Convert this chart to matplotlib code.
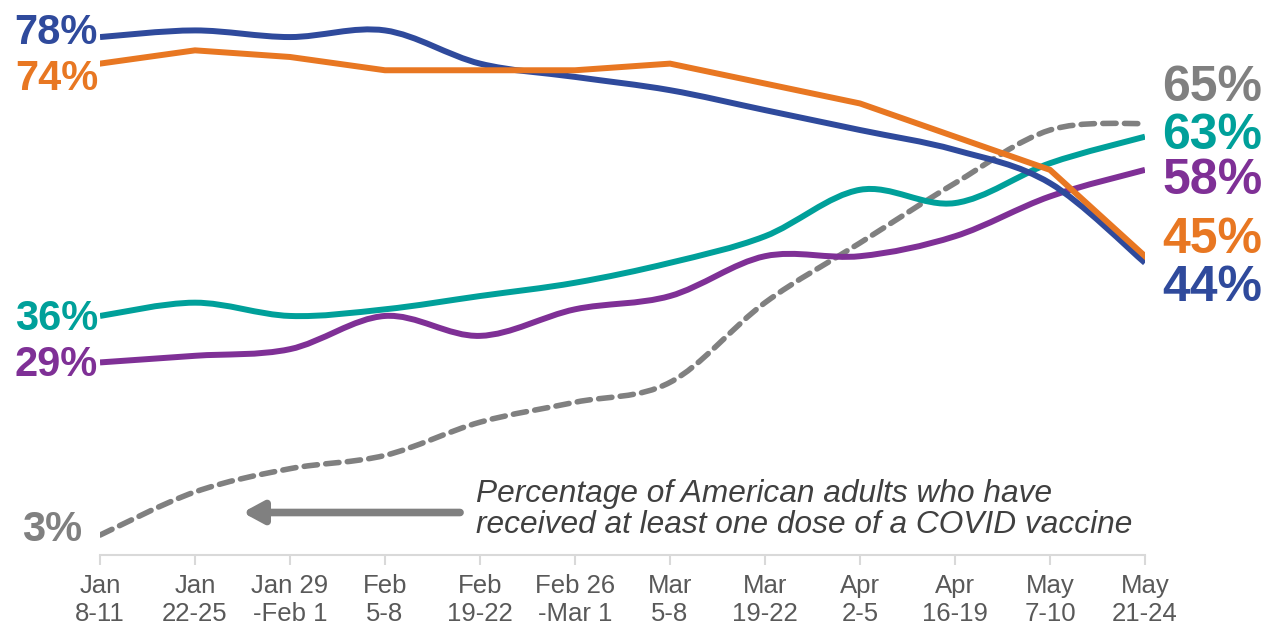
import numpy as np
import matplotlib
matplotlib.use("Agg")
import matplotlib.pyplot as plt
from matplotlib.path import Path
from matplotlib.patches import PathPatch

plt.rcParams['font.family'] = ['Liberation Sans', 'DejaVu Sans']

# Data
periods = ["Jan\n8-11", "Jan\n22-25", "Jan 29\n-Feb 1", "Feb\n5-8", "Feb\n19-22", "Feb 26\n-Mar 1",
           "Mar\n5-8", "Mar\n19-22", "Apr\n2-5", "Apr\n16-19", "May\n7-10", "May\n21-24"]
blue = [78, 79, 78, 79, 74, 72, 70, 67, 64, 61, 56, 44]
orange = [74, 76, 75, 73, 73, 73, 74, 71, 68, 63, 58, 45]
teal = [36, 38, 36, 37, 39, 41, 44, 48, 55, 53, 59, 63]
purple = [29, 30, 31, 36, 33, 37, 39, 45, 45, 48, 54, 58]
vaccinated = [3, 9.5, 13, 15, 20, 23, 26, 38, 47, 56, 64, 65]

C_BLUE = "#2f4a9c"
C_ORANGE = "#e87722"
C_TEAL = "#00a09a"
C_PURPLE = "#7f3096"
C_GRAY = "#808080"


def smooth_path(xs, ys):
    # Catmull-Rom style smoothing (like spreadsheet "smoothed line"), as cubic Bezier segments
    xs = np.asarray(xs, float)
    ys = np.asarray(ys, float)
    n = len(xs)
    verts = [(xs[0], ys[0])]
    codes = [Path.MOVETO]
    for i in range(n - 1):
        p0 = np.array([xs[max(i - 1, 0)], ys[max(i - 1, 0)]])
        p1 = np.array([xs[i], ys[i]])
        p2 = np.array([xs[i + 1], ys[i + 1]])
        p3 = np.array([xs[min(i + 2, n - 1)], ys[min(i + 2, n - 1)]])
        c1 = p1 + (p2 - p0) / 6.0
        c2 = p2 - (p3 - p1) / 6.0
        verts += [tuple(c1), tuple(c2), tuple(p2)]
        codes += [Path.CURVE4] * 3
    return Path(verts, codes)


fig = plt.figure(figsize=(12.71, 6.30), dpi=100)
ax = fig.add_axes([100 / 1271, 1 - 555 / 630, 1045 / 1271, 544.5 / 630])
x = np.arange(len(periods))

ax.add_patch(PathPatch(smooth_path(x, vaccinated), fill=False, edgecolor=C_GRAY, lw=4.0,
                       linestyle=(0, (2.4, 1.5)), capstyle='round', zorder=2))
ax.add_patch(PathPatch(smooth_path(x, teal), fill=False, edgecolor=C_TEAL, lw=4.3, zorder=3))
ax.add_patch(PathPatch(smooth_path(x, purple), fill=False, edgecolor=C_PURPLE, lw=4.3, zorder=3))
ax.add_patch(PathPatch(smooth_path(x, blue), fill=False, edgecolor=C_BLUE, lw=4.3, zorder=4))
ax.plot(x, orange, color=C_ORANGE, lw=4.3, zorder=5, solid_joinstyle='miter')

ax.set_xlim(0, 11)
ax.set_ylim(0, 82)

for s in ['top', 'right', 'left']:
    ax.spines[s].set_visible(False)
ax.spines['bottom'].set_color('#d9d9d9')
ax.spines['bottom'].set_linewidth(1.5)
ax.set_yticks([])
ax.set_xticks(x)
ax.set_xticklabels(periods, fontsize=18.5, color='#595959', linespacing=1.2)
ax.tick_params(axis='x', length=7, width=1.5, color='#d9d9d9', pad=7)

# endpoint labels
lab = dict(fontsize=30, fontweight='bold', va='center', clip_on=False)
ax.text(-0.02, 78.6, f"{blue[0]}%", color=C_BLUE, ha='right', **lab)
ax.text(-0.02, 71.7, f"{orange[0]}%", color=C_ORANGE, ha='right', **lab)
ax.text(-0.02, 35.5, f"{teal[0]}%", color=C_TEAL, ha='right', **lab)
ax.text(-0.02, 28.6, f"{purple[0]}%", color=C_PURPLE, ha='right', **lab)
ax.text(-0.19, 3.8, f"{vaccinated[0]}%", color=C_GRAY, ha='right', **lab)

rlab = dict(lab, fontsize=36)
ax.text(11.18, 70.4, f"{vaccinated[-1]}%", color=C_GRAY, ha='left', **rlab)
ax.text(11.18, 63.1, f"{teal[-1]}%", color=C_TEAL, ha='left', **rlab)
ax.text(11.18, 56.3, f"{purple[-1]}%", color=C_PURPLE, ha='left', **rlab)
ax.text(11.18, 47.4, f"{orange[-1]}%", color=C_ORANGE, ha='left', **rlab)
ax.text(11.18, 40.2, f"{blue[-1]}%", color=C_BLUE, ha='left', **rlab)

# annotation
ax.text(3.96, 6.9, "Percentage of American adults who have\nreceived at least one dose of a COVID vaccine",
        fontsize=22.8, style='italic', color='#404040', ha='left', va='center', linespacing=1.05)
ax.annotate("", xy=(1.5, 6.4), xytext=(3.79, 6.4),
            arrowprops=dict(arrowstyle='-|>,head_length=1.2,head_width=0.65', color=C_GRAY, lw=5.5,
                            shrinkA=0, shrinkB=0))

fig.savefig("out.png", dpi=100)
